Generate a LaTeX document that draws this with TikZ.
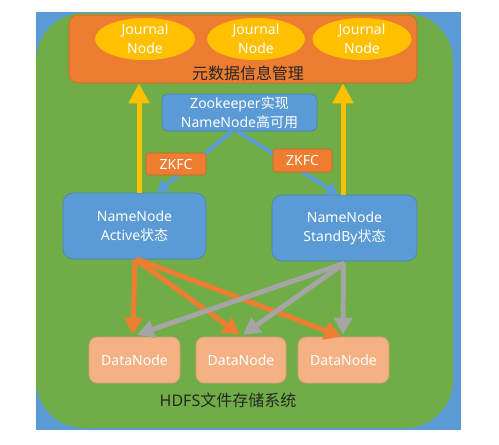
\documentclass[tikz,border=0pt]{standalone}
\usepackage{fontspec}
\setmainfont{Noto Sans}
\newfontfamily\cjk{Noto Sans CJK SC}
\usetikzlibrary{arrows.meta,shapes.geometric}
\definecolor{bgblue}{HTML}{5B9BD5}
\definecolor{bgblueline}{HTML}{4A80B8}
\definecolor{hgreen}{HTML}{70AD47}
\definecolor{horange}{HTML}{ED7D31}
\definecolor{horangeline}{HTML}{D0662A}
\definecolor{hyellow}{HTML}{FFC000}
\definecolor{hgray}{HTML}{A5A5A5}
\definecolor{hsalmon}{HTML}{F4B183}
\definecolor{hsalmonline}{HTML}{D99A72}
\definecolor{darktxt}{HTML}{262626}
\tikzset{
  basefont/.style={font=\fontsize{14}{19}\selectfont},
  metabox/.style={draw=horangeline, line width=0.6pt, fill=horange, rounded corners=9pt, inner sep=0pt},
  jnode/.style={ellipse, fill=hyellow, inner sep=0pt, minimum width=100pt, minimum height=36pt, text=white, align=center, basefont},
  bluebox/.style={draw=bgblueline, line width=0.6pt, fill=bgblue, inner sep=0pt, text=white, align=center, basefont},
  zkfcbox/.style={draw=horangeline, line width=0.6pt, fill=horange, rounded corners=3pt, inner sep=0pt, minimum width=60pt, minimum height=22pt, text=white, basefont},
  dnbox/.style={draw=hsalmonline, line width=0.6pt, fill=hsalmon, rounded corners=8pt, inner sep=0pt, minimum width=91pt, minimum height=46pt, text=white, basefont},
  titletext/.style={text=darktxt, inner sep=0pt, font=\fontsize{16}{19}\selectfont},
  yarrow/.style={draw=hyellow, line width=5pt, -{Triangle[width=20pt,length=20pt]}},
  barrow/.style={draw=bgblue, line width=4pt, -{Triangle[width=13pt,length=12pt]}},
  oarrow/.style={draw=horange, line width=5pt, -{Triangle[width=18pt,length=17pt]}},
  garrow/.style={draw=hgray, line width=5pt, -{Triangle[width=18pt,length=17pt]}},
}
\begin{document}
\begin{tikzpicture}[x=1pt,y=-1pt]
\useasboundingbox (0,0) rectangle (499,445);
\fill[white] (0,0) rectangle (499,445);
\fill[bgblue] (36,12) rectangle (461,430);
\fill[hgreen, rounded corners=48pt] (36,13) rectangle (453,428);

% metadata box
\node[metabox, minimum width=348pt, minimum height=68pt] (meta) at (243,49) {};
\node[titletext] (metatitle) at (248,73) {\cjk 元数据信息管理};
\node[jnode] (j1) at (145,39) {Journal\\Node};
\node[jnode, minimum width=98pt] (j2) at (256,39) {Journal\\Node};
\node[jnode, minimum width=99pt] (j3) at (362,39) {Journal\\Node};

% zookeeper
\node[bluebox, rounded corners=6pt, minimum width=155pt, minimum height=37pt] (zk) at (239.5,112.5) {Zookeeper{\cjk 实现}\\NameNode{\cjk 高可用}};

% namenodes
\node[bluebox, rounded corners=10pt, minimum width=143pt, minimum height=66pt] (nnA) at (134.5,226) {NameNode\\Active{\cjk 状态}};
\node[bluebox, rounded corners=10pt, minimum width=145pt, minimum height=66pt] (nnS) at (344.5,228) {NameNode\\StandBy{\cjk 状态}};

% yellow arrows
\draw[yarrow] ([xshift=4.5pt]nnA.north) -- ([xshift=4.5pt]nnA.north |- meta.south);
\draw[yarrow] ([xshift=-1.5pt]nnS.north) -- ([xshift=-1.5pt]nnS.north |- meta.south);

% blue arrows
\draw[barrow] ([xshift=-7pt]zk.south) -- ([xshift=22pt]nnA.north);
\draw[barrow] ([xshift=-2pt]zk.south) -- ([xshift=-6pt]nnS.north);

% zkfc
\node[zkfcbox] (zkfc1) at (176,164) {ZKFC};
\node[zkfcbox, minimum width=59pt, minimum height=23pt] (zkfc2) at (302.5,160.5) {ZKFC};

% datanodes
\node[dnbox] (dn1) at (134.5,360) {DataNode};
\node[dnbox, minimum width=90pt] (dn2) at (241,360) {DataNode};
\node[dnbox] (dn3) at (343.5,360) {DataNode};

% orange arrows
\draw[oarrow] ([xshift=0.5pt]nnA.south) -- ([xshift=-1.5pt,yshift=2pt]dn1.north);
\draw[oarrow] ([xshift=1pt]nnA.south) -- ([xshift=-1pt,yshift=2pt]dn2.north);
\draw[oarrow] ([xshift=3pt]nnA.south) -- ([xshift=-2pt,yshift=0pt]dn3.north);

% gray arrows
\draw[garrow] ([yshift=-2pt]nnS.south) -- ([xshift=2.5pt,yshift=2pt]dn1.north);
\draw[garrow] ([yshift=-2pt]nnS.south) -- ([xshift=2pt,yshift=2pt]dn2.north);
\draw[garrow] ([xshift=-1pt,yshift=-2pt]nnS.south) -- ([xshift=-0.5pt,yshift=2pt]dn3.north);

% title
\node[titletext] (hdfs) at (228,400) {HDFS{\cjk 文件存储系统}};
\end{tikzpicture}
\end{document}
